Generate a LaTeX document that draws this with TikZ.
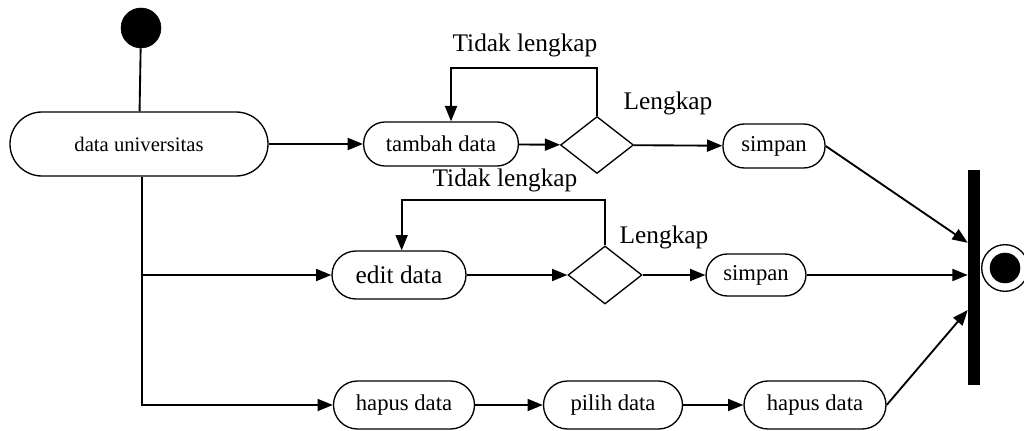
\documentclass[tikz,border=0pt]{standalone}
\usepackage{fontspec}
\setmainfont{Liberation Serif}
\usetikzlibrary{shapes.geometric,arrows.meta}

\begin{document}
\begin{tikzpicture}[x=0.75pt,y=-0.75pt,>={Triangle[length=11.5pt,width=9pt]}]
\useasboundingbox (0,0) rectangle (1024,431);

\begin{scope}[every node/.style={circle,draw,fill=black,inner sep=0pt}]
    \node[minimum size=30pt] (S) at (141,28) {};
    \node[fill=white,line width=1pt,minimum size=35pt] (E) at (1005,268) {};
    \node[minimum size=22.5pt] (E1) at (1005,268) {};
\end{scope}

\begin{scope}[every node/.style={rectangle,draw,line width=1pt,rounded corners=16pt,
    inner sep=0pt,minimum height=33pt,font=\fontsize{17}{20}\selectfont}]
    \node[minimum width=193.5pt,minimum height=48pt,rounded corners=24pt,
          font=\fontsize{15.5}{18}\selectfont] (U) at (139,144) {data universitas};
    \node[minimum width=116pt] (T) at (441,144) {tambah data};
    \node[minimum width=76.5pt] (P1) at (774,146) {simpan};
    \node[minimum width=100.5pt,minimum height=36pt,rounded corners=18pt,
          font=\fontsize{19}{22}\selectfont] (ED) at (399,275) {edit data};
    \node[minimum width=75pt,minimum height=31.5pt] (P2) at (756,275) {simpan};
    \node[minimum width=105.75pt,minimum height=36pt,rounded corners=18pt] (H1) at (404,405) {hapus data};
    \node[minimum width=104.25pt,minimum height=36pt,rounded corners=18pt] (PD) at (613,405) {pilih data};
    \node[minimum width=106.5pt,minimum height=36pt,rounded corners=18pt] (H2) at (815,405) {hapus data};
\end{scope}

\begin{scope}[every node/.style={diamond,draw,line width=1pt,inner sep=0pt}]
    \node[minimum width=54.75pt,minimum height=42.75pt] (D1) at (597,145) {};
    \node[minimum width=55.5pt,minimum height=43.5pt] (D2) at (605,275) {};
\end{scope}

\node[fill=black,inner sep=0pt,minimum width=9pt,minimum height=161.25pt] (B) at (974,277.5) {};

\begin{scope}[every node/.style={font=\fontsize{19}{22}\selectfont,inner sep=0pt}]
    \node (L1) at (525,45) {Tidak lengkap};
    \node (L2) at (668,103) {Lengkap};
    \node (L3) at (505,180) {Tidak lengkap};
    \node (L4) at (664,237) {Lengkap};
\end{scope}

\coordinate (K1) at (597,68);
\coordinate (K2) at (605,200);

\begin{scope}[every edge/.style={draw=black,line width=1.4pt}]
              \path (S) edge (U);
              \path [->] (U) edge (T);
              \path [->] (T) edge (D1);
              \path [->] (D1) edge (P1);
              \path [->] (P1.east) edge ([yshift=26pt]B.west);
              \path [->] (ED) edge (D2);
              \path [->] (D2) edge (P2);
              \path [->] (P2) edge (B.west |- P2.east);
              \path [->] (H1) edge (PD);
              \path [->] (PD) edge (H2);
              \path [->] (H2.east) edge ([yshift=-24.4pt]B.west);
\end{scope}

\begin{scope}[line width=1.4pt]
    \draw [->] (D1.north) -- (K1) -| ([xshift=7.5pt]T.north);
    \draw [->] (D2.north) -- (K2) -| ([xshift=2pt]ED.north);
    \draw [->] ([xshift=2pt]U.south) |- (ED.west);
    \draw [->] ([xshift=2pt]U.south) |- (H1.west);
\end{scope}
\end{tikzpicture}
\end{document}
